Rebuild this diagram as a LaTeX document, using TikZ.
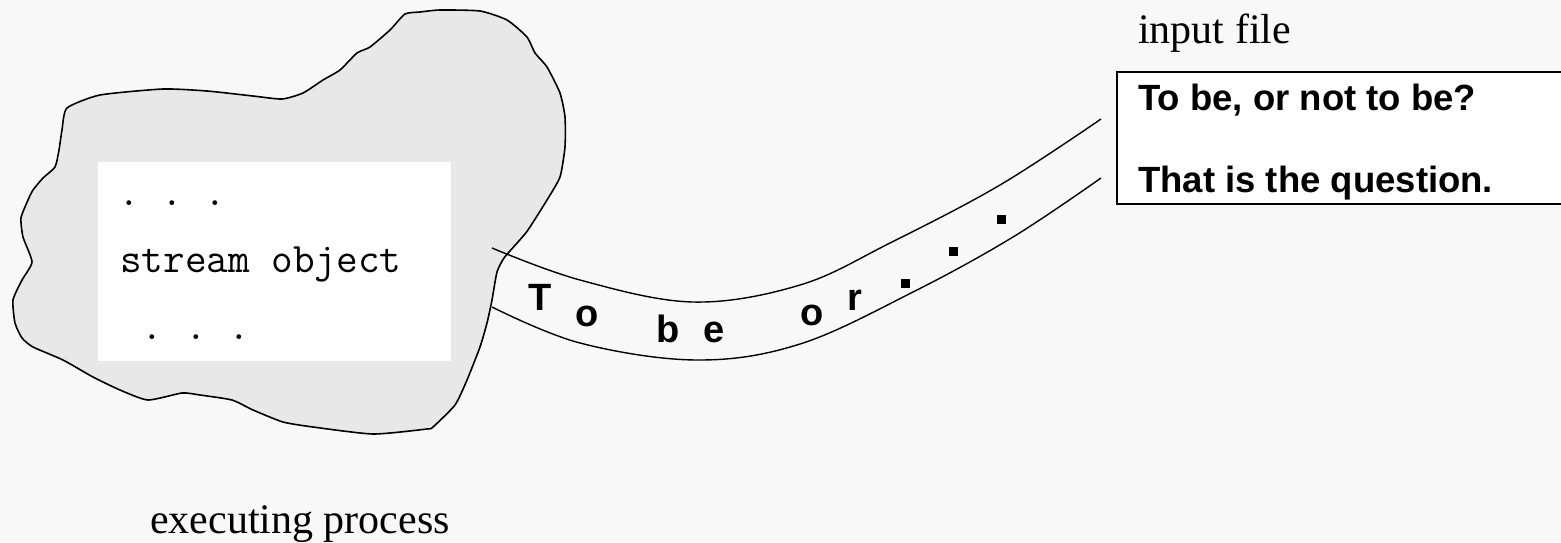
\documentclass[tikz,border=0pt]{standalone}
\usepackage{fontspec}
\setmainfont{Liberation Serif}
\newfontfamily\boldsans{Liberation Sans}
\definecolor{bgc}{HTML}{F8F8F8}
\definecolor{blobc}{HTML}{E8E8E8}
\tikzset{
  outline/.style={line width=1.6pt, line join=round},
  bandline/.style={line width=1.4pt, line join=round},
  serif label/.style={inner sep=0pt, anchor=base west, font=\fontsize{42}{50}\selectfont},
  band letter/.style={inner sep=0pt, anchor=base, font=\boldsans\bfseries\fontsize{38}{44}\selectfont},
  file line/.style={inner sep=0pt, anchor=base west, font=\boldsans\bfseries\fontsize{36.5}{44}\selectfont},
  mono line/.style={inner sep=0pt, anchor=base west, font=\ttfamily\fontsize{42}{50}\selectfont},
  dotsq/.style={fill=black, draw=none, minimum size=9pt, inner sep=0pt, rectangle}
}
\begin{document}
\begin{tikzpicture}[x=1pt, y=-1pt]
\useasboundingbox (0,0) rectangle (1561,542);
\clip (0,0) rectangle (1561,542);
\fill[bgc] (0,0) rectangle (1561,542);

% executing process blob
\draw[outline, fill=blobc] plot[smooth cycle, tension=0.35] coordinates {
(67,108) (100,95) (163,89) (207,91) (253,96) (282,99) (303,93) (323,80)
(340,70) (357,53) (370,47) (390,30) (405,14) (420,12) (440,10) (480,11)
(507,20) (527,37) (535,53) (547,67) (560,93) (565,117) (565,147) (560,177)
(547,200) (528,230) (518,242) (504,258) (497,272) (492,300) (487,323) (480,347)
(467,380) (455,405) (433,427) (427,429) (373,434) (313,427) (283,422) (253,410)
(232,400) (200,395) (182,393) (148,400) (120,390) (93,377) (63,360) (33,347)
(22,338) (15,323) (13,300) (22,280) (32,262) (23,237) (21,218) (28,200)
(33,190) (43,178) (55,167) (59,150) (62,130)};

% white program box
\fill[white] (98,162) rectangle (451,361);
\node[mono line] (l1) at (118,205) {.\ .\ .};
\node[mono line] (l2) at (120,272) {stream object};
\node[mono line] (l3) at (120,339) {\ .\ .\ .};

% stream band
\coordinate (ua) at (492,248);
\coordinate (ub) at (1101,119);
\coordinate (la) at (492,307);
\coordinate (lb) at (1101,178);
\draw[bandline] plot[smooth, tension=0.6] coordinates {
(ua) (580,280) (693,302) (800,285) (890,243) (1000,185) (ub)};
\draw[bandline] plot[smooth, tension=0.6] coordinates {
(la) (580,343) (697,360) (800,344) (913,292) (1013,237) (lb)};

\node[band letter] (cT) at (540,310) {T};
\node[band letter] (co) at (587,326) {o};
\node[band letter] (cb) at (668,342) {b};
\node[band letter] (ce) at (714,342) {e};
\node[band letter] (co2) at (812,325) {o};
\node[band letter] (cr) at (855,310) {r};
\node[dotsq] (d1) at (905,283) {};
\node[dotsq] (d2) at (953,251) {};
\node[dotsq] (d3) at (1001,219) {};

% input file
\draw[line width=2pt, fill=white] (1117,72) rectangle (1580,204);
\node[file line] (f1) at (1138,110) {To be, or not to be?};
\node[file line] (f2) at (1138,192) {That is the question.};

\node[serif label] (inp) at (1138,43) {input file};
\node[serif label] (exe) at (150,533) {executing process};
\end{tikzpicture}
\end{document}
